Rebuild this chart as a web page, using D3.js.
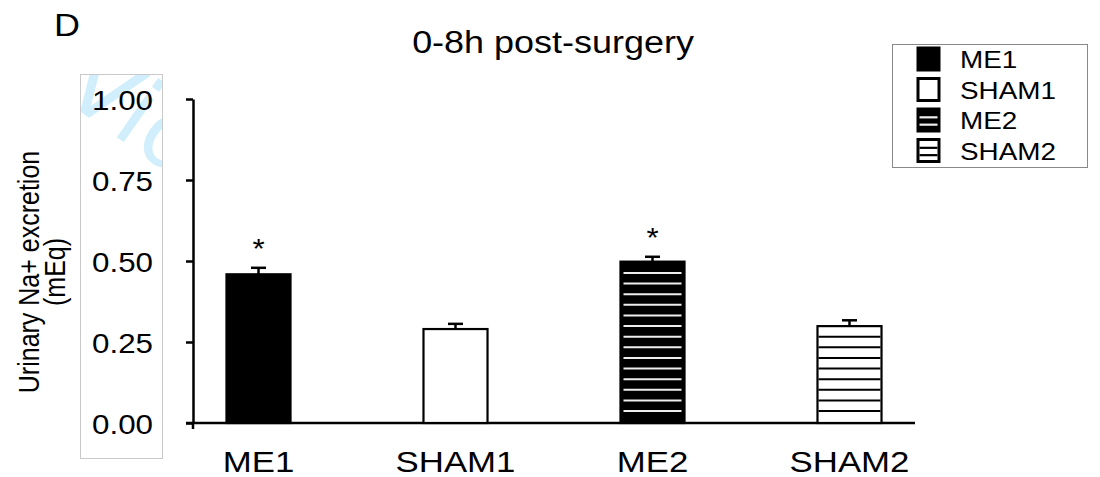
<!DOCTYPE html>
<html>
<head>
<meta charset="utf-8">
<script src="https://cdn.jsdelivr.net/npm/d3@7"></script>
<style>
  html, body { margin: 0; padding: 0; background: #fff; }
  svg text { font-family: "Liberation Sans", Arial, Helvetica, sans-serif; fill: #000; }
</style>
</head>
<body>
<svg id="chart" width="1100" height="477"></svg>
<script>
// ---- data ----
const categories = ["ME1", "SHAM1", "ME2", "SHAM2"];
const means      = [0.459, 0.290, 0.498, 0.299];
const errors     = [0.020, 0.016, 0.015, 0.018];
const significant = [true, false, true, false];
const yTicks     = [0, 0.25, 0.5, 0.75, 1.0];
const yTickLabels = ["0.00", "0.25", "0.50", "0.75", "1.00"];
const legendLabels = ["ME1", "SHAM1", "ME2", "SHAM2"];
const title = "0-8h post-surgery";
const panelLabel = "D";
const yLabelLines = ["Urinary Na+ excretion", "(mEq)"];

// ---- layout ----
const SX = 1.16; // horizontal text stretch of the original
const svg = d3.select("#chart");
const x = d3.scaleBand().domain(categories).range([193, 915]).paddingInner(0.675).paddingOuter(0.17);
const y = d3.scaleLinear().domain([0, 1]).range([423, 99]);

// watermark box
const defs = svg.append("defs");
defs.append("clipPath").attr("id", "wmclip")
  .append("rect").attr("x", 80.5).attr("y", 74.5).attr("width", 82).attr("height", 384);
svg.append("g").attr("clip-path", "url(#wmclip)")
  .append("text")
  .attr("transform", "translate(58,96) rotate(35)")
  .style("font-size", "95px")
  .style("font-family", "'DejaVu Sans', sans-serif")
  .style("fill", "#d0eefb")
  .text("Vid");
svg.append("rect").attr("x", 80.5).attr("y", 74.5).attr("width", 82).attr("height", 384)
  .attr("fill", "none").attr("stroke", "#c9c9c9").attr("stroke-width", 1);

function stext(g, str, px, py, size, anchor) {
  return g.append("text")
    .attr("transform", `translate(${px},${py}) scale(${SX},1)`)
    .attr("text-anchor", anchor || "start")
    .style("font-size", size + "px")
    .text(str);
}

// panel label and title
stext(svg, panelLabel, 54, 36, 31);
stext(svg, title, 553, 53, 31, "middle");

// y axis
const yAxis = svg.append("g").attr("transform", "translate(193,0)")
  .call(d3.axisLeft(y).tickValues(yTicks).tickSize(7).tickSizeOuter(0).tickFormat((d, i) => yTickLabels[i]));
yAxis.select(".domain").attr("stroke", "#000").attr("stroke-width", 2.5);
yAxis.selectAll(".tick line").attr("stroke", "#000").attr("stroke-width", 2.5);
yAxis.selectAll(".tick text")
  .attr("x", null).attr("dy", null)
  .attr("transform", `translate(-40,10) scale(${SX},1)`)
  .style("font-size", "27px")
  .style("font-family", "'Liberation Sans', Arial, sans-serif");
svg.append("line").attr("x1", 193).attr("x2", 193).attr("y1", y(0)).attr("y2", y(0) + 6)
  .attr("stroke", "#000").attr("stroke-width", 2.5);

// x axis
const xAxis = svg.append("g").attr("transform", `translate(0,${y(0)})`)
  .call(d3.axisBottom(x).tickSize(0).tickSizeOuter(0));
xAxis.select(".domain").remove();
xAxis.selectAll(".tick text")
  .attr("y", null).attr("dy", null)
  .attr("transform", `translate(0,49) scale(${SX},1)`)
  .style("font-size", "30px")
  .style("font-family", "'Liberation Sans', Arial, sans-serif");
svg.append("line").attr("x1", x.range()[0] - 7).attr("x2", x.range()[1])
  .attr("y1", y(0)).attr("y2", y(0)).attr("stroke", "#000").attr("stroke-width", 2.5);

// y label
yLabelLines.forEach((t, i) => {
  svg.append("text")
    .attr("transform", `translate(${39 + i * 26},272) scale(${SX},1) rotate(-90)`)
    .attr("text-anchor", "middle")
    .style("font-size", "25px")
    .text(t);
});

// bars
const period = 10.62;
const bars = svg.append("g");
categories.forEach((c, i) => {
  const bx = x(c), bw = x.bandwidth(), top = y(means[i]), base = y(0);
  const filled = (i === 0 || i === 2);
  bars.append("rect").attr("x", bx).attr("y", top).attr("width", bw).attr("height", base - top)
    .attr("fill", filled ? "#000" : "#fff").attr("stroke", "#000").attr("stroke-width", 2.2);
  if (i >= 2) {
    const lines = [];
    for (let k = 0; base - 12 - k * period > top + 5; k++) lines.push(base - 12 - k * period);
    bars.selectAll(null).data(lines).enter().append("line")
      .attr("x1", bx + (i === 2 ? 3 : 1)).attr("x2", bx + bw - (i === 2 ? 3 : 1))
      .attr("y1", d => d).attr("y2", d => d)
      .attr("stroke", i === 2 ? "#eeeeee" : "#000").attr("stroke-width", 2);
  }
  // error bar
  const cx = bx + bw / 2, et = y(means[i] + errors[i]);
  bars.append("line").attr("x1", cx).attr("x2", cx).attr("y1", top).attr("y2", et)
    .attr("stroke", "#000").attr("stroke-width", 2.5);
  bars.append("line").attr("x1", cx - 7.5).attr("x2", cx + 7.5).attr("y1", et).attr("y2", et)
    .attr("stroke", "#000").attr("stroke-width", 2.5);
  if (significant[i]) {
    stext(bars, "*", cx, et - 10, 27, "middle");
  }
});

// legend
const lg = svg.append("g");
lg.append("rect").attr("x", 892.5).attr("y", 44.5).attr("width", 195).attr("height", 123)
  .attr("fill", "#fff").attr("stroke", "#888").attr("stroke-width", 1);
legendLabels.forEach((t, i) => {
  const cy = 59 + i * 30.5;
  const sx = 918, sw = 21, sh = 22, sy = cy - sh / 2;
  const filled = (i === 0 || i === 2);
  lg.append("rect").attr("x", sx).attr("y", sy).attr("width", sw).attr("height", sh)
    .attr("fill", filled ? "#000" : "#fff").attr("stroke", "#000").attr("stroke-width", 3);
  if (i >= 2) {
    [sy + sh / 3 + 1, sy + 2 * sh / 3 + 1].forEach(ly => {
      lg.append("line").attr("x1", sx + 1.5).attr("x2", sx + sw - 1.5).attr("y1", ly).attr("y2", ly)
        .attr("stroke", i === 2 ? "#eee" : "#000").attr("stroke-width", 2.2);
    });
  }
  stext(lg, t, 960, cy + 9, 24);
});
</script>
</body>
</html>
